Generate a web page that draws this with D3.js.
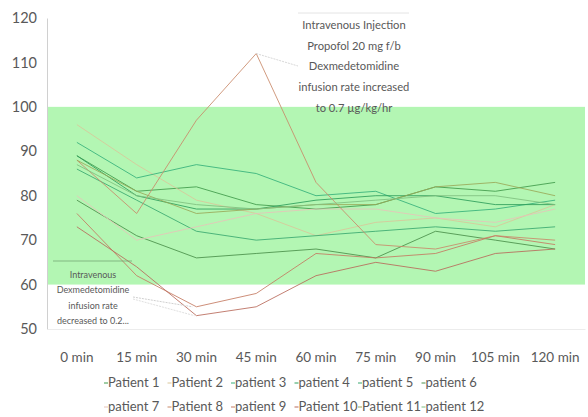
<!DOCTYPE html>
<html>
<head>
<meta charset="utf-8">
<script src="https://cdn.jsdelivr.net/npm/d3@7"></script>
<style>
  body { margin: 0; background: #fff; }
  svg text { font-family: Lato, "Open Sans", sans-serif; fill: #595959; }
</style>
</head>
<body>
<div id="chart"></div>
<script>
// time points on the x axis
var categories = ["0 min", "15 min", "30 min", "45 min", "60 min", "75 min", "90 min", "105 min", "120 min"];
var yTicks = [50, 60, 70, 80, 90, 100, 110, 120];
var bandRange = [60, 100];

var patientNames = ["Patient 1", "Patient 2", "patient 3", "patient 4", "patient 5", "patient 6",
                    "patient 7", "Patient 8", "patient 9", "Patient 10", "Patient 11", "patient 12"];

var patient1  = [89, 81, 82, 78, 77, 78, 82, 81, 83];
var patient2  = [96, 87, 79, 76, 71, 74, 75, 73, 78];
var patient3  = [92, 84, 87, 85, 80, 81, 76, 77, 79];
var patient4  = [89, 80, 77, 77, 79, 80, 80, 78, 78];
var patient5  = [86, 79, 72, 70, 71, 72, 73, 72, 73];
var patient6  = [79, 71, 66, 67, 68, 66, 72, 70, 68];
var patient7  = [80, 70, 73, 76, 77, 77, 75, 74, 77];
var patient8  = [88, 76, 97, 112, 83, 69, 68, 71, 70];
var patient9  = [76, 62, 55, 58, 67, 66, 67, 71, 69];
var patient10 = [73, 64, 53, 55, 62, 65, 63, 67, 68];
var patient11 = [88, 81, 76, 77, 78, 78, 82, 83, 80];
var patient12 = [87, 80, 78, 77, 78, 79, 80, 80, 78];

var seriesValues = [patient1, patient2, patient3, patient4, patient5, patient6,
                    patient7, patient8, patient9, patient10, patient11, patient12];

var lineColors = ["#3f9a4a", "#d9c79a", "#35b07a", "#2e9e5a", "#3aa870", "#4a8f4a",
                  "#e6c4b8", "#c98a6a", "#c47a62", "#b86a5a", "#9aa858", "#7fbf7f"];

var topNote = ["Intravenous Injection", "Propofol 20 mg f/b", "Dexmedetomidine",
               "infusion rate increased", "to 0.7 \u00b5g/kg/hr"];
var bottomNote = ["Intravenous", "Dexmedetomidine", "infusion rate", "decreased to 0.2..."];

var WIDTH = 588, HEIGHT = 417;
var MARGINS = { top: 18, right: 3, bottom: 88, left: 47 };

var svg = d3.select("#chart").append("svg")
  .attr("width", WIDTH).attr("height", HEIGHT);

var xScale = d3.scaleBand().domain(categories)
  .range([MARGINS.left, WIDTH - MARGINS.right]);
var yScale = d3.scaleLinear().domain([50, 120])
  .range([HEIGHT - MARGINS.bottom, MARGINS.top]);

// green reference band
svg.append("rect")
  .attr("x", MARGINS.left)
  .attr("y", yScale(bandRange[1]))
  .attr("width", WIDTH - MARGINS.right - MARGINS.left)
  .attr("height", yScale(bandRange[0]) - yScale(bandRange[1]))
  .attr("fill", "#b3f6b3");

// axes
var yAxis = d3.axisLeft(yScale).tickValues(yTicks).tickSize(0).tickPadding(10);
var gY = svg.append("g").attr("transform", "translate(" + MARGINS.left + ",0)").call(yAxis);
gY.select(".domain").attr("stroke", "#d0d0d0");
gY.selectAll("text").style("font-size", "14.5px");

var xAxis = d3.axisBottom(xScale).tickSize(0);
var gX = svg.append("g").attr("transform", "translate(0," + yScale(50) + ")").call(xAxis);
gX.select(".domain").attr("stroke", "#ececec");
gX.selectAll("text").attr("y", 33).attr("dy", 0).style("font-size", "13.5px");

// lines
var lineGen = d3.line()
  .x(function(d, i) { return xScale(categories[i]) + xScale.bandwidth() / 2; })
  .y(function(d) { return yScale(d); });

seriesValues.forEach(function(vals, i) {
  svg.append("path")
    .attr("d", lineGen(vals))
    .attr("fill", "none")
    .attr("stroke", lineColors[i])
    .attr("stroke-width", 1)
    .attr("opacity", 0.85);
});

// annotation near the 45 min peak
var cx = function(c) { return xScale(c) + xScale.bandwidth() / 2; };
svg.append("line")
  .attr("x1", cx("45 min")).attr("y1", yScale(112))
  .attr("x2", 298).attr("y2", 66)
  .attr("stroke", "#d8d8d8").attr("stroke-dasharray", "2,1");
svg.append("line")
  .attr("x1", 298).attr("x2", 409).attr("y1", 13).attr("y2", 13)
  .attr("stroke", "#e4e4e4");
topNote.forEach(function(t, i) {
  svg.append("text").attr("x", 354).attr("y", 29 + i * 20.7)
    .attr("text-anchor", "middle").style("font-size", "11.2px").text(t);
});

// annotation near the 30 min dip
svg.append("line")
  .attr("x1", 53).attr("x2", 132).attr("y1", 261).attr("y2", 261)
  .attr("stroke", "#6f9f6f").attr("stroke-width", 0.7);
svg.append("line")
  .attr("x1", 133).attr("y1", 297)
  .attr("x2", cx("30 min") - 4).attr("y2", yScale(55))
  .attr("stroke", "#d0d0d0").attr("stroke-dasharray", "2,1");
svg.append("line")
  .attr("x1", 133).attr("y1", 299)
  .attr("x2", cx("30 min") - 2).attr("y2", yScale(53))
  .attr("stroke", "#e0e0e0").attr("stroke-dasharray", "2,1");
bottomNote.forEach(function(t, i) {
  svg.append("text").attr("x", 93).attr("y", 278 + i * 15.3)
    .attr("text-anchor", "middle").style("font-size", "9px").text(t);
});

// legend, two rows of six
var legend = svg.append("g").attr("class", "legend");
patientNames.forEach(function(name, i) {
  var col = i % 6, row = Math.floor(i / 6);
  var lx = 108 + col * 63.5, ly = 387 + row * 24;
  legend.append("line")
    .attr("x1", lx - 4).attr("x2", lx).attr("y1", ly - 4).attr("y2", ly - 4)
    .attr("stroke", lineColors[i]);
  legend.append("text").attr("x", lx).attr("y", ly)
    .style("font-size", "13px").text(name);
});
</script>
</body>
</html>
